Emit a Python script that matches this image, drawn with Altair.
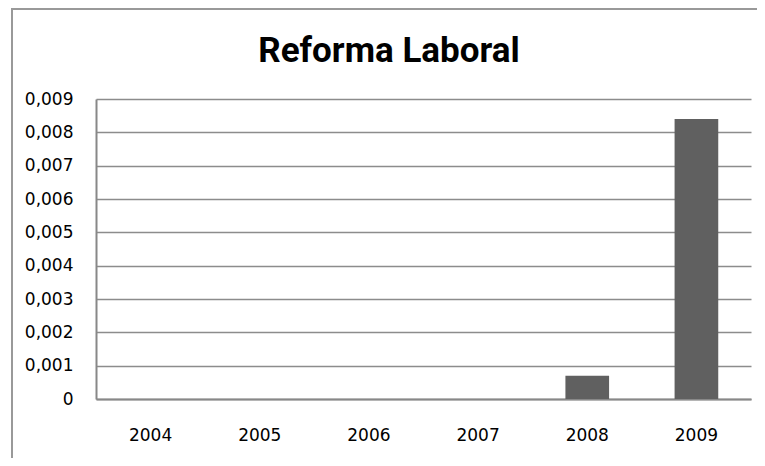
import altair as alt
import pandas as pd

years = ["2004", "2005", "2006", "2007", "2008", "2009"]
values = [0, 0, 0, 0, 0.0007, 0.0084]
y_ticks = [0, 0.001, 0.002, 0.003, 0.004, 0.005, 0.006, 0.007, 0.008, 0.009]
title_text = ["Reforma Laboral"]

df = pd.DataFrame({"year": years, "value": values})

bars = alt.Chart(df).mark_bar(color="#606060").encode(
    x=alt.X("year:N", sort=years,
            scale=alt.Scale(paddingInner=0.6, paddingOuter=0.3),
            axis=alt.Axis(title=None, labelAngle=0, ticks=False,
                          labelFont="DejaVu Sans", labelFontSize=17,
                          labelColor="#000000", labelPadding=28,
                          domainColor="#888888", domainWidth=2)),
    y=alt.Y("value:Q", scale=alt.Scale(domain=[0, 0.009], nice=False),
            axis=alt.Axis(title=None, values=y_ticks, ticks=False,
                          labelExpr="replace(format(datum.value, '.3~f'), '.', ',')",
                          labelFont="DejaVu Sans", labelFontSize=17,
                          labelColor="#000000", labelPadding=23,
                          gridColor="#8c8c8c", gridWidth=1.5,
                          domainColor="#888888", domainWidth=2)),
)

border = alt.Chart(pd.DataFrame({"a": [0]})).mark_rect(
    fill=None, stroke="#999999", strokeWidth=2
).encode(
    x=alt.value(-84), x2=alt.value(700),
    y=alt.value(-90), y2=alt.value(400),
)

title = alt.Chart(pd.DataFrame({"t": title_text})).mark_text(
    font="Roboto", fontSize=35, fontWeight="bold",
    color="#000000", align="center", baseline="alphabetic"
).encode(
    text="t:N", x=alt.value(293), y=alt.value(-37),
)

chart = alt.layer(border, bars, title).properties(
    width=655, height=300,
    padding={"left": 88, "top": 91, "right": 6, "bottom": 59},
    autosize=alt.AutoSizeParams(type="none"),
).configure_view(stroke=None)

chart.save("out.html", embed_options={"renderer": "svg", "actions": False})
